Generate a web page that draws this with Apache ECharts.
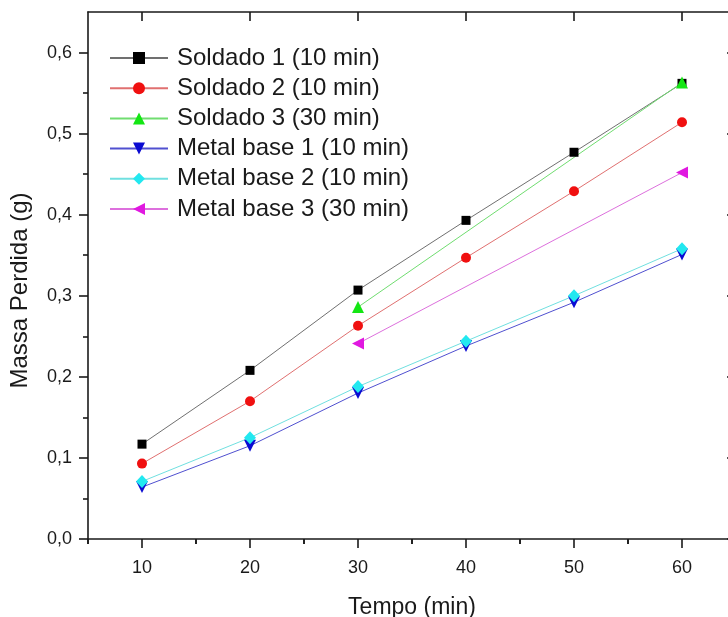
<!DOCTYPE html>
<html>
<head>
<meta charset="utf-8">
<script src="https://cdn.jsdelivr.net/npm/echarts@6/dist/echarts.min.js"></script>
<style>
  html, body { margin: 0; padding: 0; background: #fff; }
  #chart { width: 728px; height: 617px; }
</style>
</head>
<body>
<div id="chart"></div>
<script>
// Tempo de ensaio (min)
const tempo = [10, 20, 30, 40, 50, 60];
const tempoLongo = [30, 60];

// Massa perdida (g)
const soldado1 = [0.117, 0.208, 0.307, 0.393, 0.477, 0.562];
const soldado2 = [0.093, 0.170, 0.263, 0.347, 0.429, 0.514];
const soldado3 = [0.286, 0.563];
const metalBase1 = [0.064, 0.115, 0.180, 0.238, 0.292, 0.351];
const metalBase2 = [0.071, 0.125, 0.188, 0.244, 0.300, 0.358];
const metalBase3 = [0.241, 0.452];

const nomes = [
  'Soldado 1 (10 min)', 'Soldado 2 (10 min)', 'Soldado 3 (30 min)',
  'Metal base 1 (10 min)', 'Metal base 2 (10 min)', 'Metal base 3 (30 min)'
];

// Axis ticks and labels
const xMajorTicks = [10, 20, 30, 40, 50, 60];
const xMinorTicks = [5, 15, 25, 35, 45, 55, 65];
const yMajorTicks = [0, 0.1, 0.2, 0.3, 0.4, 0.5, 0.6];
const yMinorTicks = [0.05, 0.15, 0.25, 0.35, 0.45, 0.55];
const yTickLabels = ['0,0', '0,1', '0,2', '0,3', '0,4', '0,5', '0,6'];

const pares = (xs, ys) => xs.map((x, i) => [x, ys[i]]);

const FONT = 'Liberation Sans, Arial, sans-serif';
const AXIS_COLOR = '#1a1a1a';
const TEXT_COLOR = '#1a1a1a';
const X_MIN = 5, X_MAX = 65, Y_MIN = 0, Y_MAX = 0.65;

function xAxisDef(position, ticks, len, inside, extra) {
  return Object.assign({
    type: 'value', min: X_MIN, max: X_MAX, position: position,
    axisLine: { show: true, onZero: false, lineStyle: { color: AXIS_COLOR, width: 1.6 } },
    axisTick: { show: true, inside: inside, length: len, customValues: ticks,
                lineStyle: { color: AXIS_COLOR, width: 1.6 } },
    axisLabel: { show: false },
    splitLine: { show: false }
  }, extra || {});
}
function yAxisDef(position, ticks, len, inside, extra) {
  return Object.assign({
    type: 'value', min: Y_MIN, max: Y_MAX, position: position,
    axisLine: { show: true, onZero: false, lineStyle: { color: AXIS_COLOR, width: 1.6 } },
    axisTick: { show: true, inside: inside, length: len, customValues: ticks,
                lineStyle: { color: AXIS_COLOR, width: 1.6 } },
    axisLabel: { show: false },
    splitLine: { show: false }
  }, extra || {});
}

const estilos = [
  { symbol: 'rect',     size: 9,  rotate: 0,   mark: '#000000', line: '#707070' },
  { symbol: 'circle',   size: 10, rotate: 0,   mark: '#f01010', line: '#e07070' },
  { symbol: 'triangle', size: 12, rotate: 0,   mark: '#14e614', line: '#70dd70' },
  { symbol: 'triangle', size: 12, rotate: 180, mark: '#0a0ad2', line: '#5050d0' },
  { symbol: 'diamond',  size: [12, 13], rotate: 0, mark: '#22e8f0', line: '#70e0e0' },
  { symbol: 'triangle', size: 12, rotate: 90,  mark: '#e018e0', line: '#dd70dd' }
];
const dados = [
  pares(tempo, soldado1), pares(tempo, soldado2), pares(tempoLongo, soldado3),
  pares(tempo, metalBase1), pares(tempo, metalBase2), pares(tempoLongo, metalBase3)
];

const series = dados.map((d, i) => ({
  name: nomes[i],
  type: 'line',
  data: d,
  xAxisIndex: 0,
  yAxisIndex: 0,
  symbol: estilos[i].symbol,
  symbolSize: estilos[i].size,
  symbolRotate: estilos[i].rotate,
  showAllSymbol: true,
  animation: false,
  itemStyle: { color: estilos[i].mark, opacity: 1 },
  lineStyle: { color: estilos[i].line, width: 1 },
  emphasis: { disabled: true }
}));

const chart = echarts.init(document.getElementById('chart'), null, { renderer: 'canvas' });
chart.setOption({
  animation: false,
  backgroundColor: '#ffffff',
  grid: { left: 88, top: 12, width: 648, height: 527, containLabel: false, outerBoundsMode: 'none' },
  legend: {
    orient: 'vertical',
    left: 109,
    top: 46,
    padding: 0,
    itemWidth: 58,
    itemHeight: 15,
    itemGap: 6.2,
    data: nomes,
    textStyle: { fontFamily: FONT, fontSize: 24, color: TEXT_COLOR, lineHeight: 24, padding: [0, 0, 0, 4] }
  },
  xAxis: [
    xAxisDef('bottom', xMajorTicks, 9, false, {
      name: 'Tempo (min)', nameLocation: 'middle', nameGap: 57,
      nameTextStyle: { fontFamily: FONT, fontSize: 23, color: TEXT_COLOR },
      axisLabel: { show: true, customValues: xMajorTicks, margin: 20,
                   fontFamily: FONT, fontSize: 18, color: TEXT_COLOR }
    }),
    xAxisDef('bottom', xMinorTicks, 5, false, { axisLine: { show: false } }),
    xAxisDef('top', xMajorTicks, 9, true),
    xAxisDef('top', xMinorTicks, 5, true, { axisLine: { show: false } })
  ],
  yAxis: [
    yAxisDef('left', yMajorTicks, 9, false, {
      name: 'Massa Perdida (g)', nameLocation: 'middle', nameGap: 56, nameRotate: 90,
      nameTextStyle: { fontFamily: FONT, fontSize: 24, color: TEXT_COLOR, padding: [0, 30, 0, 0] },
      axisLabel: { show: true, customValues: yMajorTicks, margin: 16,
                   fontFamily: FONT, fontSize: 18, color: TEXT_COLOR,
                   formatter: v => yTickLabels[Math.round(v * 10)] }
    }),
    yAxisDef('left', yMinorTicks, 5, false, { axisLine: { show: false } }),
    yAxisDef('right', yMajorTicks, 9, true),
    yAxisDef('right', yMinorTicks, 5, true, { axisLine: { show: false } })
  ],
  series: series
});
</script>
</body>
</html>
